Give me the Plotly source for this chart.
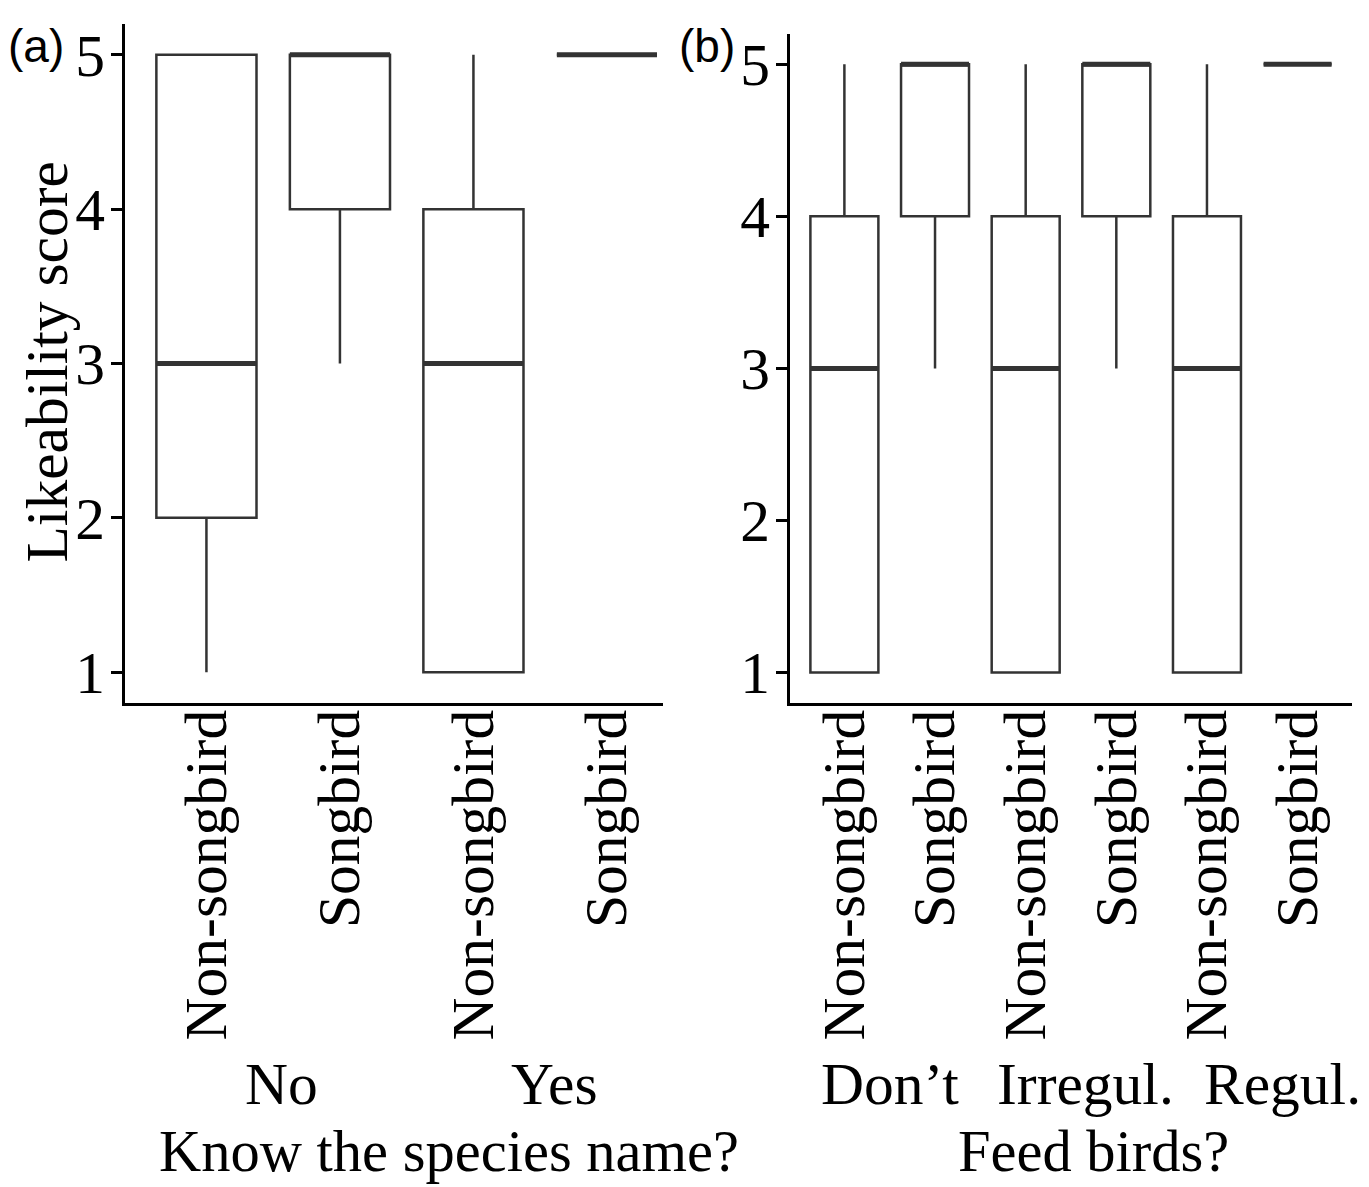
import plotly.graph_objects as go

# ---------------- data ----------------
cats_a = ["Non-songbird", "Songbird", "Non-songbird", "Songbird"]
groups_a = ["No", "Yes"]
low_a = [1, 3, 1, 5]
q1_a = [2, 4, 1, 5]
med_a = [3, 5, 3, 5]
q3_a = [5, 5, 4, 5]
up_a = [5, 5, 5, 5]

cats_b = ["Non-songbird", "Songbird", "Non-songbird", "Songbird", "Non-songbird", "Songbird"]
groups_b = ["Don\u2019t", "Irregul.", "Regul."]
low_b = [1, 3, 1, 3, 1, 5]
q1_b = [1, 4, 1, 4, 1, 5]
med_b = [3, 5, 3, 5, 3, 5]
q3_b = [4, 5, 4, 5, 4, 5]
up_b = [5, 5, 5, 5, 5, 5]

yticks = [1, 2, 3, 4, 5]

# ---------------- styling ----------------
W, H = 1369, 1187
SERIF = "Liberation Serif, Times New Roman, serif"
SANS = "Liberation Sans, Arial, sans-serif"
FS = 59.5
BOXC = "#333333"

pos_a = list(range(len(cats_a)))
pos_b = list(range(len(cats_b)))

fig = go.Figure()


def add_boxes(pos, lo, q1, med, q3, up, xa, ya):
    fig.add_trace(go.Box(
        x=pos, q1=q1, median=med, q3=q3, lowerfence=lo, upperfence=up,
        width=0.75, whiskerwidth=0, fillcolor="white",
        line=dict(color=BOXC, width=2.5), boxpoints=False,
        xaxis=xa, yaxis=ya, showlegend=False, hoverinfo="skip"))
    # thicker median line
    fig.add_trace(go.Box(
        x=pos, q1=med, median=med, q3=med, lowerfence=med, upperfence=med,
        width=0.75, whiskerwidth=0, fillcolor="rgba(0,0,0,0)",
        line=dict(color=BOXC, width=5), boxpoints=False,
        xaxis=xa, yaxis=ya, showlegend=False, hoverinfo="skip"))


add_boxes(pos_a, low_a, q1_a, med_a, q3_a, up_a, "x", "y")
add_boxes(pos_b, low_b, q1_b, med_b, q3_b, up_b, "x2", "y2")

tickfont = dict(family=SERIF, size=FS, color="black")
xcommon = dict(showline=True, linecolor="black", linewidth=3, ticks="",
               showgrid=False, zeroline=False, tickangle=-90, tickfont=tickfont,
               ticklabelstandoff=-20, fixedrange=True)
ycommon = dict(showline=True, linecolor="black", linewidth=3, ticks="outside",
               ticklen=11, tickwidth=2.5, tickcolor="black", showgrid=False,
               zeroline=False, range=[0.8, 5.2], tickvals=yticks,
               tickfont=tickfont, ticklabelstandoff=-6, fixedrange=True)

fig.update_layout(
    width=W, height=H,
    margin=dict(l=0, r=0, t=0, b=0),
    paper_bgcolor="white", plot_bgcolor="white",
    boxmode="overlay",
    xaxis=dict(domain=[125 / W, 663 / W], range=[-0.61, 3.42],
               tickvals=pos_a, ticktext=cats_a, anchor="y", **xcommon),
    yaxis=dict(domain=[1 - 704 / H, 1 - 22 / H], anchor="x", **ycommon),
    xaxis2=dict(domain=[790 / W, 1352 / W], range=[-0.6, 5.6],
                tickvals=pos_b, ticktext=cats_b, anchor="y2", **xcommon),
    yaxis2=dict(domain=[1 - 704 / H, 1 - 32 / H], anchor="x2", **ycommon),
)

txt = dict(family=SERIF, size=FS, color="black")
ttl = dict(family=SERIF, size=58.5, color="black")
ann = []
# y-axis title
ann.append(dict(text="Likeability score", xref="paper", yref="paper",
                x=47 / W, y=1 - 362 / H, textangle=-90, showarrow=False,
                xanchor="center", yanchor="middle", font=txt))
# group labels (centered on each group's pair of boxes)
grp_shift_a = [8, 14]
for i, g in enumerate(groups_a):
    ann.append(dict(text=g, xref="x", yref="paper",
                    x=(pos_a[2 * i] + pos_a[2 * i + 1]) / 2, y=1 - 1087 / H,
                    xshift=grp_shift_a[i], showarrow=False,
                    xanchor="center", yanchor="middle", font=txt))
grp_shift_b = [0, 14, 30]
for i, g in enumerate(groups_b):
    ann.append(dict(text=g, xref="x2", yref="paper",
                    x=(pos_b[2 * i] + pos_b[2 * i + 1]) / 2, y=1 - 1087 / H,
                    xshift=grp_shift_b[i], showarrow=False,
                    xanchor="center", yanchor="middle", font=txt))
# axis titles
ann.append(dict(text="Know the species name?", xref="paper", yref="paper",
                x=449 / W, y=1 - 1154 / H, showarrow=False,
                xanchor="center", yanchor="middle", font=ttl))
ann.append(dict(text="Feed birds?", xref="paper", yref="paper",
                x=1093 / W, y=1 - 1154 / H, showarrow=False,
                xanchor="center", yanchor="middle", font=ttl))
# panel tags
ann.append(dict(text="(a)", xref="paper", yref="paper", x=36 / W, y=1 - 44 / H,
                showarrow=False, xanchor="center", yanchor="middle",
                font=dict(family=SANS, size=46, color="black")))
ann.append(dict(text="(b)", xref="paper", yref="paper", x=707 / W, y=1 - 44 / H,
                showarrow=False, xanchor="center", yanchor="middle",
                font=dict(family=SANS, size=46, color="black")))
fig.update_layout(annotations=ann)

fig.write_html("out.html", config={"displayModeBar": False},
               post_script="document.body.style.margin='0px';document.body.style.padding='0px';")
